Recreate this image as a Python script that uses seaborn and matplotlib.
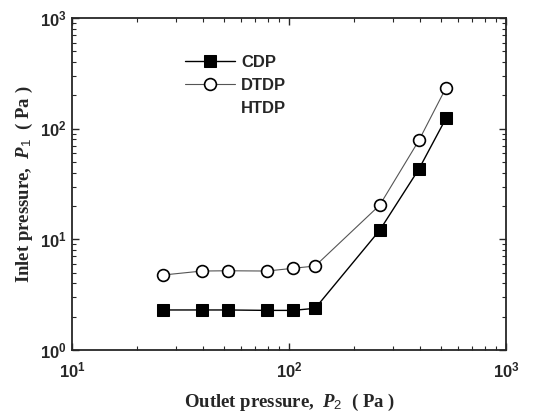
import numpy as np
import pandas as pd
import matplotlib
matplotlib.use("Agg")
import matplotlib.pyplot as plt
import matplotlib.ticker as mticker
import seaborn as sns

# data
outlet_p = [26.3, 39.7, 52.3, 79.2, 104, 132, 262, 397, 529]
cdp_p1   = [2.30, 2.30, 2.30, 2.28, 2.28, 2.38, 12.1, 43.2, 124]
dtdp_p1  = [4.76, 5.17, 5.20, 5.17, 5.47, 5.74, 20.4, 78.4, 234]
series_names = ["CDP", "DTDP", "HTDP"]
x_ticks = [10, 100, 1000]
y_ticks = [1, 10, 100, 1000]

sns.set_style("ticks")
plt.rcParams["mathtext.fontset"] = "custom"
plt.rcParams["mathtext.it"] = "Liberation Serif:italic:bold"
plt.rcParams["mathtext.bf"] = "Liberation Sans:bold"
plt.rcParams["mathtext.rm"] = "Liberation Sans"
plt.rcParams["xtick.direction"] = "in"
plt.rcParams["ytick.direction"] = "in"

df = pd.DataFrame({"x": outlet_p, "CDP": cdp_p1, "DTDP": dtdp_p1})

fig = plt.figure(figsize=(5.47, 4.17), dpi=100)
ax = fig.add_axes([72 / 547, 1 - 350 / 417, 434 / 547, 332 / 417])

sns.lineplot(data=df, x="x", y="CDP", ax=ax, color="black", lw=1.0,
             marker="s", markersize=8.5, markerfacecolor="black",
             markeredgecolor="black", label=series_names[0])
sns.lineplot(data=df, x="x", y="DTDP", ax=ax, color="#555555", lw=0.8,
             marker="o", markersize=8.5, markerfacecolor="white",
             markeredgecolor="black", markeredgewidth=1.2,
             label=series_names[1])
ax.plot([], [], linestyle="none", label=series_names[2])

ax.set_xscale("log")
ax.set_yscale("log")
ax.set_xlim(10, 1000)
ax.set_ylim(1, 1000)

ax.xaxis.set_major_locator(mticker.FixedLocator(x_ticks))
ax.yaxis.set_major_locator(mticker.FixedLocator(y_ticks))
ax.xaxis.set_minor_locator(mticker.LogLocator(base=10, subs=np.arange(2, 10)))
ax.yaxis.set_minor_locator(mticker.LogLocator(base=10, subs=np.arange(2, 10)))
ax.xaxis.set_minor_formatter(mticker.NullFormatter())
ax.yaxis.set_minor_formatter(mticker.NullFormatter())
fmt = mticker.FuncFormatter(lambda v, p: r"$\mathbf{10^{%d}}$" % round(np.log10(v)))
ax.xaxis.set_major_formatter(fmt)
ax.yaxis.set_major_formatter(fmt)
ax.tick_params(which="major", length=5, width=1, labelsize=12, top=True, right=True)
ax.tick_params(axis="x", which="major", pad=8)
ax.tick_params(which="minor", length=3, width=0.8, top=True, right=True)
for s in ax.spines.values():
    s.set_linewidth(1.3)

ax.set_xlabel(r"Outlet pressure,  $P_{\mathit{2}}$  ( Pa )", fontsize=13.5,
              fontweight="bold", family="Liberation Serif", labelpad=8)
ax.set_ylabel(r"Inlet pressure,  $P_{\mathit{1}}$  ( Pa )", fontsize=13.5,
              fontweight="bold", family="Liberation Serif", labelpad=4)

leg = ax.legend(loc="upper left", bbox_to_anchor=(0.225, 0.935), frameon=False,
                handlelength=3.0, handletextpad=0.4, labelspacing=0.5,
                prop={"family": "Liberation Sans", "weight": "bold", "size": 12})

fig.savefig("out.png", dpi=100)
